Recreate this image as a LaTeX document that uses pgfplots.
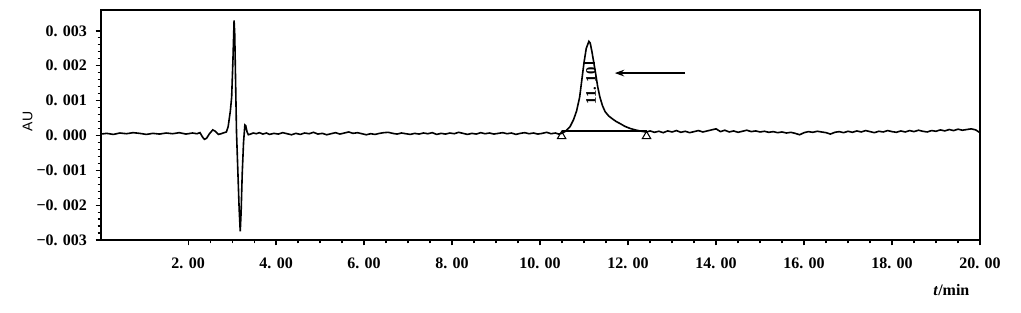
\documentclass[border=0pt]{standalone}
\usepackage{fontspec}
\setmainfont{Liberation Serif}
\newfontfamily\sansf{Liberation Sans}
\usepackage{pgfplots}
\pgfplotsset{compat=1.18}
\usetikzlibrary{arrows.meta}
\begin{document}
\begin{tikzpicture}[x=1pt,y=1pt]
\begin{axis}[
  scale only axis,
  width=659.25pt, height=172.5pt,
  xmin=0.02, xmax=20, ymin=-0.003, ymax=0.0036,
  xtick={2,4,...,20},
  xticklabels={2. 00,4. 00,6. 00,8. 00,10. 00,12. 00,14. 00,16. 00,18. 00,20. 00},
  minor x tick num=3,
  ytick={-0.003,-0.002,-0.001,0,0.001,0.002,0.003},
  yticklabels={−0. 003,−0. 002,−0. 001,0. 000,0. 001,0. 002,0. 003},
  minor y tick num=4,
  tick align=outside,
  xtick pos=bottom, ytick pos=left,
  major tick length=4pt, minor tick length=2.5pt,
  every tick/.style={black, line width=0.9pt},
  axis line style={line width=1.1pt},
  tick label style={font=\bfseries\fontsize{12}{14}\selectfont},
  xticklabel style={yshift=-6pt},
  yticklabel style={xshift=-3pt},
  scaled y ticks=false,
  clip=false,
]
\addplot[black, line width=1.2pt] coordinates {
(0.02,0.00004)(0.15,0.00006)(0.3,0.00003)(0.45,0.00007)(0.6,0.00005)(0.75,0.00008)(0.9,0.00006)(1.05,0.00003)(1.2,0.00006)(1.35,0.00004)(1.5,0.00007)(1.65,0.00005)(1.8,0.00008)(1.95,0.00004)(2.1,0.00007)(2.2,0.00005)
(2.27,0.00008)(2.33,-0.00005)(2.37,-0.00011)(2.42,-0.00008)(2.48,0.00004)(2.56,0.00016)(2.62,0.00012)(2.69,0.00003)(2.75,0.00005)(2.82,0.00008)(2.87,0.00010)(2.91,0.00025)(2.96,0.0007)(2.99,0.0011)(3.02,0.0022)(3.045,0.0033)(3.06,0.0029)(3.08,0.0015)(3.10,0.0001)(3.13,-0.0010)(3.16,-0.0021)(3.185,-0.00275)(3.205,-0.0022)(3.23,-0.0011)(3.26,-0.0002)(3.29,0.00030)(3.31,0.00028)(3.34,0.00010)(3.37,0.00002)(3.42,0.00004)
(3.48,0.00007)(3.55,0.00005)(3.62,0.00008)(3.7,0.00004)(3.78,0.00007)(3.85,0.00003)(3.95,0.00006)(4.05,0.00004)(4.15,0.00008)(4.25,0.00005)(4.35,0.00002)(4.45,0.00006)(4.55,0.00003)(4.65,0.00007)(4.75,0.00005)(4.85,0.00009)(4.95,0.00004)(5.05,0.00006)(5.15,0.00002)(5.25,0.00005)(5.35,0.00008)(5.45,0.00004)(5.55,0.00007)(5.65,0.00010)(5.75,0.00006)(5.85,0.00008)(5.95,0.00005)(6.05,0.00002)(6.15,0.00005)(6.25,0.00003)(6.35,0.00006)(6.45,0.00008)(6.55,0.00009)(6.65,0.00006)(6.75,0.00004)(6.85,0.00007)(6.95,0.00005)(7.05,0.00003)(7.15,0.00006)(7.25,0.00004)(7.35,0.00007)(7.45,0.00005)(7.55,0.00008)(7.65,0.00003)(7.75,0.00006)(7.85,0.00004)(7.95,0.00007)(8.05,0.00005)(8.15,0.00009)(8.25,0.00006)(8.35,0.00003)(8.45,0.00006)(8.55,0.00004)(8.65,0.00008)(8.75,0.00005)(8.85,0.00007)(8.95,0.00004)(9.05,0.00006)(9.15,0.00008)(9.25,0.00005)(9.35,0.00007)(9.45,0.00003)(9.55,0.00006)(9.65,0.00008)(9.75,0.00005)(9.85,0.00007)(9.95,0.00004)(10.05,0.00006)(10.15,0.00009)(10.25,0.00005)(10.35,0.00007)(10.42,0.00004)
(10.49,0.00006)(10.58,0.00012)(10.68,0.00025)(10.76,0.00045)(10.83,0.0007)(10.90,0.0011)(10.95,0.0016)(11.00,0.0021)(11.05,0.0025)(11.11,0.0027)(11.14,0.00265)(11.18,0.0024)(11.22,0.0021)(11.26,0.0018)(11.31,0.0014)(11.36,0.0011)(11.42,0.00085)(11.48,0.00068)(11.56,0.00056)(11.64,0.00048)(11.73,0.0004)(11.82,0.00034)(11.93,0.00026)(12.05,0.0002)(12.16,0.00016)(12.27,0.00013)(12.35,0.00011)(12.42,0.0001)
(12.5,0.00013)(12.6,0.00009)(12.7,0.00012)(12.8,0.00008)(12.9,0.00013)(13.0,0.00010)(13.1,0.00014)(13.2,0.00009)(13.3,0.00012)(13.4,0.00008)(13.5,0.00011)(13.6,0.00014)(13.7,0.00010)(13.8,0.00013)(13.9,0.00016)(14.0,0.00019)(14.1,0.00011)(14.2,0.00015)(14.3,0.00010)(14.4,0.00013)(14.5,0.00009)(14.6,0.00012)(14.7,0.00015)(14.8,0.00011)(14.9,0.00013)(15.0,0.00010)(15.1,0.00012)(15.2,0.00009)(15.3,0.00011)(15.4,0.00008)(15.5,0.00010)(15.6,0.00007)(15.7,0.00009)(15.8,0.00006)(15.9,0.00002)(16.0,0.00008)(16.1,0.00011)(16.2,0.00009)(16.3,0.00012)(16.4,0.00010)(16.5,0.00008)(16.6,0.00004)(16.7,0.00009)(16.8,0.00011)(16.9,0.00008)(17.0,0.00012)(17.1,0.00009)(17.2,0.00013)(17.3,0.00010)(17.4,0.00014)(17.5,0.00011)(17.6,0.00008)(17.7,0.00012)(17.8,0.00010)(17.9,0.00014)(18.0,0.00011)(18.1,0.00009)(18.2,0.00013)(18.3,0.00010)(18.4,0.00014)(18.5,0.00011)(18.6,0.00015)(18.7,0.00012)(18.8,0.00010)(18.9,0.00014)(19.0,0.00012)(19.1,0.00016)(19.2,0.00013)(19.3,0.00017)(19.4,0.00014)(19.5,0.00018)(19.6,0.00015)(19.7,0.00017)(19.8,0.00019)(19.9,0.00016)(20.0,0.00008)
};
% integration baseline
\addplot[black, line width=0.9pt] coordinates {(10.49,0.00013)(12.42,0.00013)};
% start/end markers
\addplot[only marks, mark=triangle, mark size=3.6pt, mark options={black, line width=0.8pt, fill=white}] coordinates {(10.49,-0.00002)(12.42,-0.00002)};
% label bar
\addplot[black, line width=0.8pt] coordinates {(10.99,0.00208)(11.25,0.00208)};
\node[rotate=90, font=\bfseries\fontsize{11}{13}\selectfont] at (axis cs:11.16,0.00142) {11. 10};
\draw[-{Stealth[length=7pt,width=5pt]}, line width=1.1pt] (axis cs:13.30,0.00179) -- (axis cs:11.70,0.00179);
\node[rotate=90, font=\sansf\fontsize{10.5}{12}\selectfont] at (axis cs:-1.65,0.0004) {AU};
\node[font=\bfseries\fontsize{12}{14}\selectfont, anchor=center] at (axis cs:19.35,-0.00445) {\textit{t}/min};
\draw[line width=2pt] (rel axis cs:0,1) -- (rel axis cs:1,1);
\end{axis}
\pgfresetboundingbox
\path[use as bounding box] (-75.75pt,-54.75pt) rectangle (690pt,180pt);
\end{tikzpicture}
\end{document}
